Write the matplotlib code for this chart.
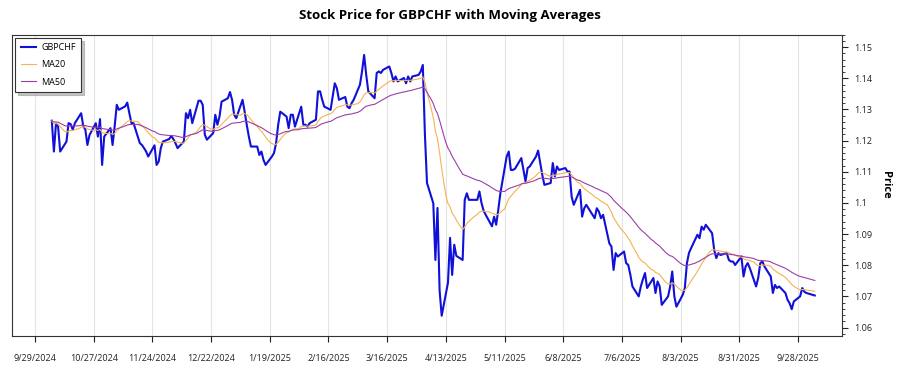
import matplotlib
matplotlib.use("Agg")
import matplotlib.pyplot as plt
from matplotlib.ticker import MultipleLocator
import pandas as pd

plt.rcParams["font.family"] = ["Open Sans", "DejaVu Sans"]

symbol = "GBPCHF"
start_date = "2024-10-07"
end_date = "2025-10-06"

# daily closes (business days)
close_prices = [
    1.1264, 1.1165, 1.1255, 1.1245, 1.1165,
    1.1197, 1.1256, 1.1253, 1.1235, 1.1256,
    1.1288, 1.1247, 1.1235, 1.1186, 1.1218,
    1.1256, 1.1213, 1.1269, 1.1122, 1.1213,
    1.1240, 1.1186, 1.1247, 1.1315, 1.1299,
    1.1310, 1.1322, 1.1288, 1.1256, 1.1256,
    1.1192, 1.1186, 1.1176, 1.1165, 1.1149,
    1.1185, 1.1122, 1.1133, 1.1176, 1.1197,
    1.1205, 1.1215, 1.1205, 1.1192, 1.1176,
    1.1197, 1.1288, 1.1272, 1.1299, 1.1256,
    1.1328, 1.1328, 1.1315, 1.1219, 1.1203,
    1.1224, 1.1283, 1.1251, 1.1277, 1.1325,
    1.1336, 1.1356, 1.1331, 1.1283, 1.1272,
    1.1331, 1.1293, 1.1251, 1.1213, 1.1181,
    1.1181, 1.1154, 1.1165, 1.1138, 1.1122,
    1.1149, 1.1160, 1.1192, 1.1251, 1.1293,
    1.1277, 1.1240, 1.1283, 1.1283, 1.1245,
    1.1309, 1.1251, 1.1251, 1.1245, 1.1256,
    1.1267, 1.1358, 1.1358, 1.1331, 1.1309,
    1.1299, 1.1341, 1.1384, 1.1368, 1.1331,
    1.1340, 1.1309, 1.1304, 1.1320, 1.1331,
    1.1379, 1.1422, 1.1475, 1.1411, 1.1358,
    1.1336, 1.1417, 1.1422, 1.1417, 1.1427,
    1.1438, 1.1417, 1.1390, 1.1406, 1.1390,
    1.1401, 1.1384, 1.1406, 1.1390, 1.1406,
    1.1411, 1.1422, 1.1443, 1.1220, 1.1064,
    1.0999, 1.0817, 1.0984, 1.0720, 1.0638,
    1.0744, 1.0888, 1.0769, 1.0866, 1.0830,
    1.0817, 1.1010, 1.1031, 1.1010, 1.1010,
    1.1010, 1.1037, 1.1000, 1.0975, 1.0962,
    1.0925, 1.0956, 1.0930, 1.0978, 1.1031,
    1.1149, 1.1165, 1.1106, 1.1106, 1.1110,
    1.1144, 1.1106, 1.1069, 1.1112, 1.1117,
    1.1149, 1.1168, 1.1128, 1.1090, 1.1058,
    1.1064, 1.1128, 1.1085, 1.1117, 1.1106,
    1.1112, 1.1101, 1.1101, 1.1020, 1.0994,
    1.1042, 1.0956, 1.0983, 1.0994, 1.0983,
    1.0951, 1.0983, 1.0972, 1.0951, 1.0962,
    1.0870, 1.0860, 1.0785, 1.0839, 1.0828,
    1.0844, 1.0807, 1.0801, 1.0770, 1.0732,
    1.0700, 1.0732, 1.0755, 1.0775, 1.0727,
    1.0759, 1.0711, 1.0748, 1.0732, 1.0673,
    1.0700, 1.0732, 1.0780, 1.0700, 1.0667,
    1.0705, 1.0727, 1.0807, 1.0840, 1.0855,
    1.0898, 1.0887, 1.0924, 1.0914, 1.0930,
    1.0903, 1.0850, 1.0823, 1.0839, 1.0833,
    1.0839, 1.0817, 1.0812, 1.0812, 1.0801,
    1.0828, 1.0764, 1.0796, 1.0807, 1.0791,
    1.0732, 1.0759, 1.0807, 1.0812, 1.0796,
    1.0764, 1.0711, 1.0737, 1.0727, 1.0732,
    1.0711, 1.0689, 1.0678, 1.0659, 1.0684,
    1.0700, 1.0727, 1.0715, 1.0711, 1.0709,
    1.0703,
]

tick_labels = ["9/29/2024", "10/27/2024", "11/24/2024", "12/22/2024",
               "1/19/2025", "2/16/2025", "3/16/2025", "4/13/2025",
               "5/11/2025", "6/8/2025", "7/6/2025", "8/3/2025",
               "8/31/2025", "9/28/2025"]

prices = pd.Series(close_prices, index=pd.bdate_range(start_date, end_date))
# moving averages on the calendar-day series (closes carried over weekends)
daily = prices.asfreq("D").ffill()
ma20 = daily.ewm(span=20, adjust=False).mean()
ma50 = daily.ewm(span=50, adjust=False).mean()

fig = plt.figure(figsize=(9, 3.75), dpi=100)
ax = fig.add_axes([0.0133, 0.104, 0.9223, 0.8035])

ax.plot(prices.index, prices.values, color="#1010d8", lw=1.5, label=symbol)
ax.plot(ma20.index, ma20.values, color="#f4b350", lw=0.8, label="MA20")
ax.plot(ma50.index, ma50.values, color="#9b3fa8", lw=0.8, label="MA50")

ax.set_xlim(pd.Timestamp("2024-09-18"), pd.Timestamp("2025-10-19"))
ax.set_ylim(1.0573, 1.1540)

ax.set_xticks(pd.to_datetime(tick_labels, format="%m/%d/%Y"))
ax.set_xticklabels(tick_labels)
ax.yaxis.set_major_locator(MultipleLocator(0.01))
ax.yaxis.set_minor_locator(MultipleLocator(0.002))
ax.yaxis.set_major_formatter(plt.FuncFormatter(lambda v, p: f"{v:.2f}".rstrip("0")))
ax.yaxis.tick_right()
ax.yaxis.set_label_position("right")

ax.tick_params(axis="x", length=4, width=0.8, pad=9, labelsize=6.5, colors="#222222")
ax.tick_params(axis="y", which="major", length=4, width=0.8, pad=5, labelsize=6.5, colors="#222222")
ax.tick_params(axis="y", which="minor", length=2, width=0.6, colors="#222222")

ax.grid(axis="x", color="#e4e4e4", lw=0.8)
ax.set_axisbelow(True)
for sp in ax.spines.values():
    sp.set_color("#333333")
    sp.set_linewidth(0.8)

fig.suptitle("Stock Price for GBPCHF with Moving Averages", x=0.5, y=0.975,
             fontsize=9.5, fontweight="bold")
ax.set_ylabel("Price", fontsize=8, fontweight="bold", rotation=270, labelpad=13)

leg = ax.legend(loc="upper left", fontsize=6.5, frameon=True, fancybox=False,
                shadow={"color": "0.55", "alpha": 0.5}, edgecolor="#333333",
                borderaxespad=0.35, handlelength=1.7, handletextpad=0.6,
                borderpad=0.6, labelspacing=0.9)
leg.get_frame().set_linewidth(0.8)

fig.savefig("out.png", dpi=100)
